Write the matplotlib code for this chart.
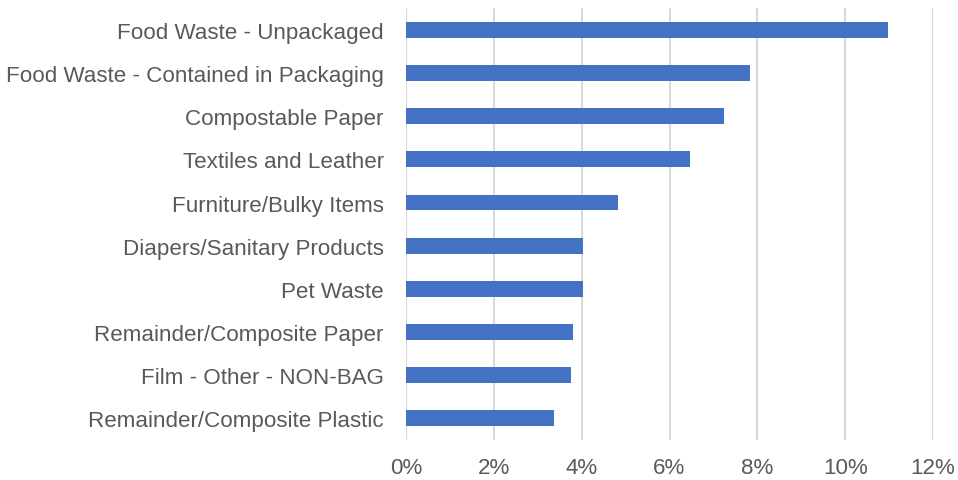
import matplotlib
matplotlib.use("Agg")
import matplotlib.pyplot as plt
from matplotlib.ticker import FuncFormatter

categories = [
    "Food Waste - Unpackaged",
    "Food Waste - Contained in Packaging",
    "Compostable Paper",
    "Textiles and Leather",
    "Furniture/Bulky Items",
    "Diapers/Sanitary Products",
    "Pet Waste",
    "Remainder/Composite Paper",
    "Film - Other - NON-BAG",
    "Remainder/Composite Plastic",
]
values = [10.97, 7.84, 7.25, 6.47, 4.83, 4.02, 4.02, 3.80, 3.75, 3.36]
xticks = [0, 2, 4, 6, 8, 10, 12]

plt.rcParams['font.family'] = ['Liberation Sans', 'DejaVu Sans']
text_color = "#595959"

fig = plt.figure(figsize=(9.58, 4.81), dpi=100)
ax = fig.add_axes([406/958, 1 - 441/481, (933 - 406)/958, (441 - 9.2)/481])

y = list(range(len(categories)))
ax.barh(y, values, height=0.37, color="#4472C4", zorder=3)
ax.set_ylim(len(categories) - 0.5, -0.5)
ax.set_yticks(y)
ax.set_yticklabels(categories, fontsize=16.1, color=text_color)
ax.set_xlim(0, 12)
ax.set_xticks(xticks)
ax.xaxis.set_major_formatter(FuncFormatter(lambda v, p: f"{v:.0f}%"))
for lab in ax.get_xticklabels():
    lab.set_fontsize(16.1)
    lab.set_color(text_color)
ax.grid(axis="x", color="#d9d9d9", linewidth=1.5, zorder=0)
ax.tick_params(axis="y", length=0, pad=16)
ax.tick_params(axis="x", length=0, pad=12)
for s in ax.spines.values():
    s.set_visible(False)

fig.savefig("out.png", dpi=100)
